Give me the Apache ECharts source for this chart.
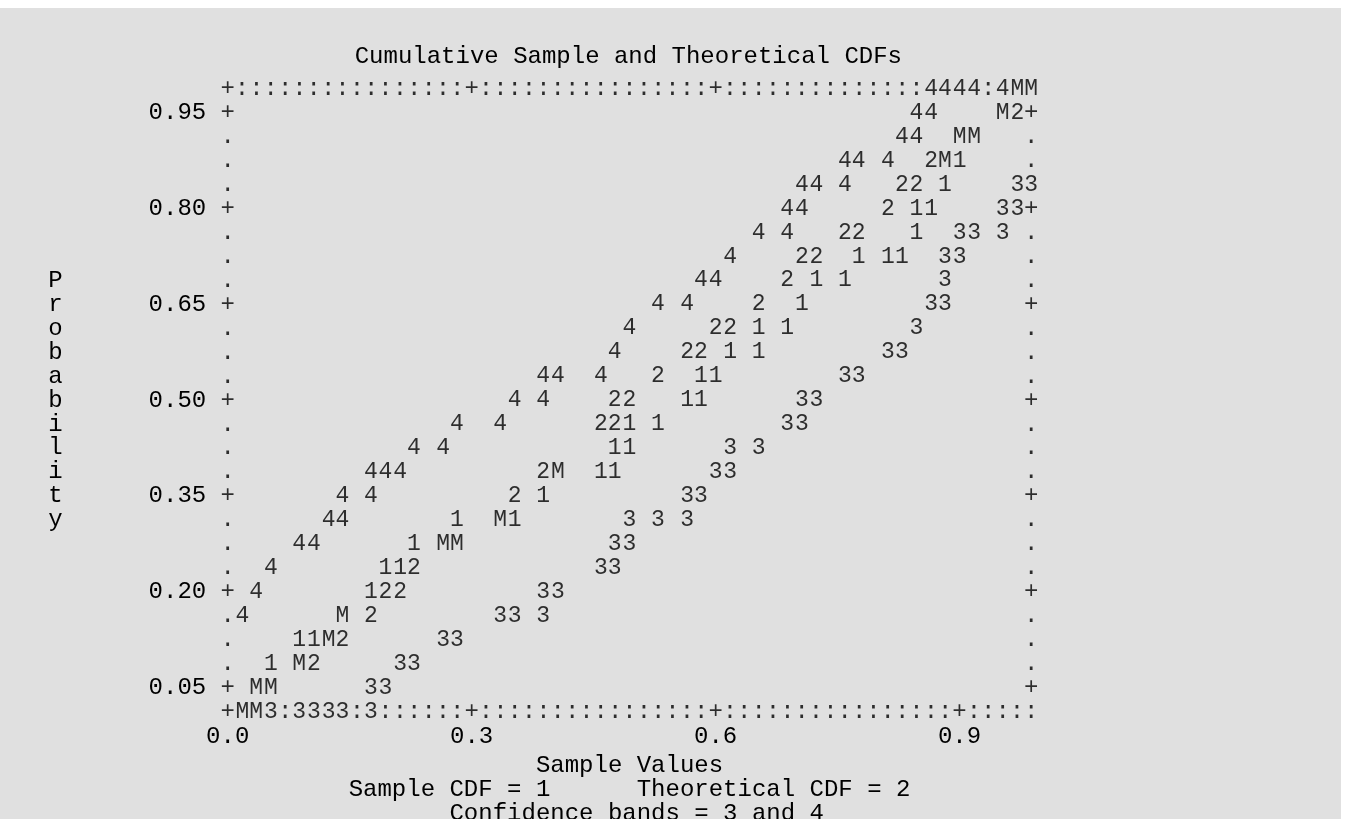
<!DOCTYPE html>
<html>
<head>
<meta charset="utf-8">
<script src="https://cdn.jsdelivr.net/npm/echarts@6/dist/echarts.min.js"></script>
<style>
  html, body { margin: 0; padding: 0; background: #ffffff; }
  #bg { position: absolute; left: 0; top: 8px; width: 1341px; height: 811px; background: #e0e0e0; }
  #chart { position: absolute; left: 0; top: 0; width: 1349px; height: 819px; }
</style>
</head>
<body>
<div id="bg"></div>
<div id="chart"></div>
<script>
// ---------------- texts ----------------
const chartTitle = 'Cumulative Sample and Theoretical CDFs';
const xAxisTitle = 'Sample Values';
const legendLines = ['Sample CDF = 1      Theoretical CDF = 2', ' Confidence bands = 3 and 4'];
const yAxisTitle = 'Probability';
const xTickLabels = [0.0, 0.3, 0.6, 0.9];
const yTickLabels = [0.95, 0.80, 0.65, 0.50, 0.35, 0.20, 0.05];

// ---------------- data: [sample value, probability] as plotted ----------------
// plot symbol '1'
const sampleCDF = [
  [0.9, 0.875], [0.882, 0.8375], [0.847, 0.8], [0.865, 0.8], [0.847, 0.7625],
  [0.776, 0.725], [0.812, 0.725], [0.829, 0.725], [0.724, 0.6875], [0.759, 0.6875],
  [0.706, 0.65], [0.653, 0.6125], [0.688, 0.6125], [0.618, 0.575], [0.653, 0.575],
  [0.582, 0.5375], [0.6, 0.5375], [0.565, 0.5], [0.582, 0.5], [0.494, 0.4625],
  [0.529, 0.4625], [0.476, 0.425], [0.494, 0.425], [0.459, 0.3875], [0.476, 0.3875],
  [0.388, 0.35], [0.282, 0.3125], [0.353, 0.3125], [0.229, 0.275], [0.194, 0.2375],
  [0.212, 0.2375], [0.176, 0.2], [0.088, 0.125], [0.106, 0.125], [0.053, 0.0875]
];
// plot symbol '2'
const theoreticalCDF = [
  [0.971, 0.95], [0.865, 0.875], [0.829, 0.8375], [0.847, 0.8375], [0.812, 0.8],
  [0.759, 0.7625], [0.776, 0.7625], [0.706, 0.725], [0.724, 0.725], [0.688, 0.6875],
  [0.653, 0.65], [0.6, 0.6125], [0.618, 0.6125], [0.565, 0.575], [0.582, 0.575],
  [0.529, 0.5375], [0.476, 0.5], [0.494, 0.5], [0.459, 0.4625], [0.476, 0.4625],
  [0.388, 0.3875], [0.353, 0.35], [0.229, 0.2375], [0.194, 0.2], [0.212, 0.2],
  [0.176, 0.1625], [0.141, 0.125], [0.106, 0.0875]
];
// plot symbol '3'
const lowerBand = [
  [0.971, 0.8375], [0.988, 0.8375], [0.953, 0.8], [0.971, 0.8], [0.9, 0.7625],
  [0.918, 0.7625], [0.953, 0.7625], [0.882, 0.725], [0.9, 0.725], [0.882, 0.6875],
  [0.865, 0.65], [0.882, 0.65], [0.847, 0.6125], [0.812, 0.575], [0.829, 0.575],
  [0.759, 0.5375], [0.776, 0.5375], [0.706, 0.5], [0.724, 0.5], [0.688, 0.4625],
  [0.706, 0.4625], [0.618, 0.425], [0.653, 0.425], [0.6, 0.3875], [0.618, 0.3875],
  [0.565, 0.35], [0.582, 0.35], [0.494, 0.3125], [0.529, 0.3125], [0.565, 0.3125],
  [0.476, 0.275], [0.494, 0.275], [0.459, 0.2375], [0.476, 0.2375], [0.388, 0.2],
  [0.406, 0.2], [0.335, 0.1625], [0.353, 0.1625], [0.388, 0.1625], [0.265, 0.125],
  [0.282, 0.125], [0.212, 0.0875], [0.229, 0.0875], [0.176, 0.05], [0.194, 0.05],
  [0.053, 0.0125], [0.088, 0.0125], [0.106, 0.0125], [0.124, 0.0125], [0.141, 0.0125],
  [0.176, 0.0125]
];
// plot symbol '4'
const upperBand = [
  [0.865, 0.9875], [0.882, 0.9875], [0.9, 0.9875], [0.918, 0.9875], [0.953, 0.9875],
  [0.847, 0.95], [0.865, 0.95], [0.829, 0.9125], [0.847, 0.9125], [0.759, 0.875],
  [0.776, 0.875], [0.812, 0.875], [0.706, 0.8375], [0.724, 0.8375], [0.759, 0.8375],
  [0.688, 0.8], [0.706, 0.8], [0.653, 0.7625], [0.688, 0.7625], [0.618, 0.725],
  [0.582, 0.6875], [0.6, 0.6875], [0.529, 0.65], [0.565, 0.65], [0.494, 0.6125],
  [0.476, 0.575], [0.388, 0.5375], [0.406, 0.5375], [0.459, 0.5375], [0.353, 0.5],
  [0.388, 0.5], [0.282, 0.4625], [0.335, 0.4625], [0.229, 0.425], [0.265, 0.425],
  [0.176, 0.3875], [0.194, 0.3875], [0.212, 0.3875], [0.141, 0.35], [0.176, 0.35],
  [0.124, 0.3125], [0.141, 0.3125], [0.088, 0.275], [0.106, 0.275], [0.053, 0.2375],
  [0.035, 0.2], [0.018, 0.1625]
];
// plot symbol 'M' (several curves in one cell)
const multiple = [
  [0.971, 0.9875], [0.988, 0.9875], [0.953, 0.95], [0.9, 0.9125], [0.918, 0.9125],
  [0.882, 0.875], [0.406, 0.3875], [0.335, 0.3125], [0.265, 0.275], [0.282, 0.275],
  [0.141, 0.1625], [0.124, 0.125], [0.088, 0.0875], [0.035, 0.05], [0.053, 0.05],
  [0.018, 0.0125], [0.035, 0.0125]
];

// ---------------- layout (character grid) ----------------
const FONT = 'Liberation Mono';
const COLS_PER_TICK = 17;
const STEP_X = 0.3 / COLS_PER_TICK;   // one character column
const STEP_Y = 0.0375;                // one character row
const N_COLS = 56, N_ROWS = 26;
const X_MIN = 0, X_MAX = N_COLS * STEP_X;
const Y_MIN = 0.0125, Y_MAX = 0.9875;

// frame characters ('+', ':' and '.') drawn on the axis rectangle, skipped where a curve symbol sits
const occupied = new Set();
[sampleCDF, theoreticalCDF, lowerBand, upperBand, multiple].forEach(arr =>
  arr.forEach(([x, y]) => occupied.add(Math.round(x / STEP_X) + ',' + Math.round((Y_MAX - y) / STEP_Y))));
const framePlus = [], frameColon = [], frameDot = [];
function cell(c, r) { return [c * STEP_X, Y_MAX - r * STEP_Y]; }
for (let c = 0; c <= N_COLS; c++) {
  for (const r of [0, N_ROWS]) {
    if (occupied.has(c + ',' + r)) continue;
    (c % COLS_PER_TICK === 0 ? framePlus : frameColon).push(cell(c, r));
  }
}
for (let r = 1; r < N_ROWS; r++) {
  for (const c of [0, N_COLS]) {
    if (occupied.has(c + ',' + r)) continue;
    ((r - 1) % 4 === 0 ? framePlus : frameDot).push(cell(c, r));
  }
}

function charSeries(name, data, ch, size) {
  return {
    type: 'scatter', name: name, data: data, symbol: 'circle', symbolSize: 1,
    itemStyle: { color: 'rgba(0,0,0,0)' }, silent: true, animation: false,
    label: { show: true, position: 'inside', formatter: ch, color: '#000',
             fontFamily: FONT, fontSize: size || 24, align: 'center', verticalAlign: 'middle' }
  };
}

const chart = echarts.init(document.getElementById('chart'), null, { renderer: 'canvas' });
chart.setOption({
  backgroundColor: 'transparent',
  animation: false,
  title: {
    text: chartTitle, left: 349.7, top: 40,
    textStyle: { fontFamily: FONT, fontSize: 24, fontWeight: 'normal', color: '#000', lineHeight: 24 }
  },
  grid: { left: 227.7, right: 317.7, top: 88.7, bottom: 107.3, containLabel: false, outerBoundsMode: 'none' },
  xAxis: {
    type: 'value', min: X_MIN, max: X_MAX,
    axisLine: { show: false }, axisTick: { show: false }, splitLine: { show: false },
    axisLabel: { customValues: xTickLabels, formatter: v => v.toFixed(1), fontFamily: FONT, fontSize: 24,
                 color: '#000', margin: 25, verticalAlign: 'middle' },
    name: [xAxisTitle].concat(legendLines).join('\n'), nameLocation: 'middle', nameGap: 71.9,
    nameTextStyle: { fontFamily: FONT, fontSize: 24, color: '#000', align: 'center', verticalAlign: 'middle', lineHeight: 23.96 }
  },
  yAxis: {
    type: 'value', min: Y_MIN, max: Y_MAX,
    axisLine: { show: false }, axisTick: { show: false }, splitLine: { show: false },
    axisLabel: { customValues: yTickLabels, formatter: v => v.toFixed(2), fontFamily: FONT, fontSize: 24,
                 color: '#000', margin: 21.5, verticalAlign: 'middle', align: 'right' },
    name: yAxisTitle.split('').join('\n'), nameLocation: 'middle', nameGap: 172.2, nameRotate: 0,
    nameTextStyle: { fontFamily: FONT, fontSize: 24, color: '#000', align: 'center', verticalAlign: 'middle', lineHeight: 23.96 }
  },
  series: [
    charSeries('frame +', framePlus, '+'),
    charSeries('frame :', frameColon, ':'),
    charSeries('frame .', frameDot, '.'),
    charSeries('Sample CDF', sampleCDF, '1', 23),
    charSeries('Theoretical CDF', theoreticalCDF, '2', 23),
    charSeries('Confidence band 3', lowerBand, '3', 23),
    charSeries('Confidence band 4', upperBand, '4', 23),
    charSeries('Multiple', multiple, 'M', 23)
  ]
});
</script>
</body>
</html>
